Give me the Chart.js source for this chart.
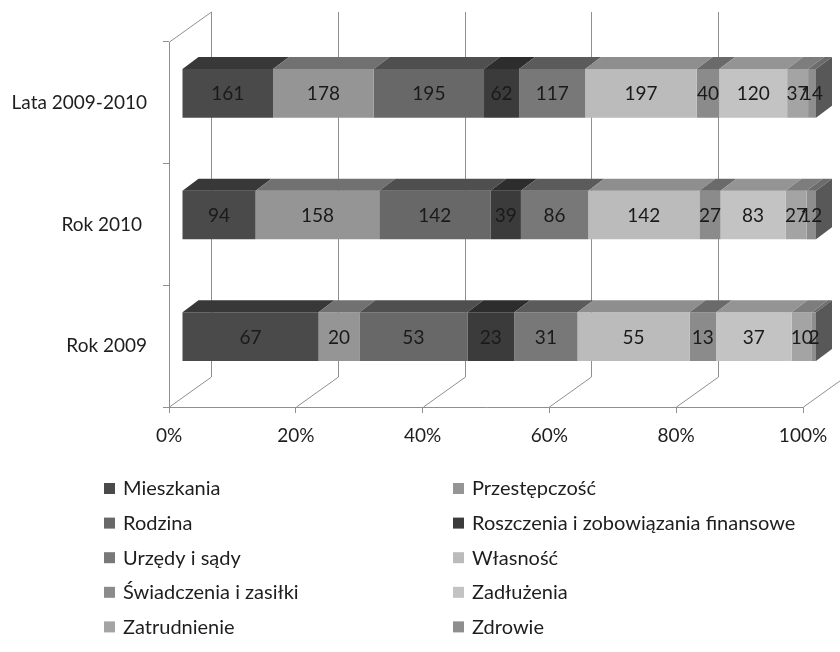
<!DOCTYPE html>
<html>
<head>
<meta charset="utf-8">
<script src="https://cdn.jsdelivr.net/npm/chart.js@4/dist/chart.umd.min.js"></script>
<style>
  html, body { margin: 0; padding: 0; background: #ffffff; }
  #wrap { width: 840px; height: 652px; }
</style>
</head>
<body>
<div id="wrap"><canvas id="c" width="840" height="652"></canvas></div>
<script>
// ---------- data ----------
const categories = ['Lata 2009-2010', 'Rok 2010 ', 'Rok 2009'];
const seriesNames = ['Mieszkania', 'Przestępczość', 'Rodzina', 'Roszczenia i zobowiązania finansowe',
  'Urzędy i sądy', 'Własność', 'Świadczenia i zasiłki', 'Zadłużenia', 'Zatrudnienie', 'Zdrowie'];
const mieszkania    = [161, 94, 67];
const przestepczosc = [178, 158, 20];
const rodzina       = [195, 142, 53];
const roszczenia    = [62, 39, 23];
const urzedy        = [117, 86, 31];
const wlasnosc      = [197, 142, 55];
const swiadczenia   = [40, 27, 13];
const zadluzenia    = [120, 83, 37];
const zatrudnienie  = [37, 27, 10];
const zdrowie       = [14, 12, 2];
const xTickLabels = ['0%', '20%', '40%', '60%', '80%', '100%'];

const seriesValues = [mieszkania, przestepczosc, rodzina, roszczenia, urzedy,
  wlasnosc, swiadczenia, zadluzenia, zatrudnienie, zdrowie];

// ---------- styles ----------
const seriesColors = ['#4a4a4a', '#959595', '#686868', '#3b3b3b', '#787878',
  '#bbbbbb', '#8b8b8b', '#c3c3c3', '#a4a4a4', '#8e8e8e'];
const GRID = '#8f8f8f';
const TEXT = '#1e1e1e';
const FONT = { family: 'Lato', size: 19 };
const LEGEND_FONT = { family: 'Lato', size: 20 };
const DEPTH_X = 42, DEPTH_Y = -30;     // wall depth
const BAR_DX = 13, BAR_DY = -9.5;      // bar front-face offset
const TOP_DX = 16, TOP_DY = -12;       // bar depth

function shade(hex, f) {
  const n = parseInt(hex.slice(1), 16);
  const r = Math.round(((n >> 16) & 255) * f), g = Math.round(((n >> 8) & 255) * f), b = Math.round((n & 255) * f);
  return 'rgb(' + r + ',' + g + ',' + b + ')';
}

const totals = categories.map((_, ci) => seriesValues.reduce((s, arr) => s + arr[ci], 0));

const datasets = seriesNames.map((name, i) => ({
  label: name,
  rawValues: seriesValues[i],
  data: seriesValues[i].map((v, ci) => v / totals[ci] * 100),
  backgroundColor: seriesColors[i],
  borderWidth: 0,
  barPercentage: 0.4,
  categoryPercentage: 1.0,
  clip: false
}));

const frame3d = {
  id: 'frame3d',
  beforeDatasetsDraw(chart) {
    const ctx = chart.ctx, xs = chart.scales.x, ca = chart.chartArea;
    ctx.save();
    ctx.strokeStyle = GRID;
    ctx.lineWidth = 1;
    ctx.beginPath();
    xs.ticks.forEach(t => {
      const px = Math.round(xs.getPixelForValue(t.value)) + 0.5;
      ctx.moveTo(px + DEPTH_X, ca.top + DEPTH_Y);
      ctx.lineTo(px + DEPTH_X, ca.bottom + DEPTH_Y);
      ctx.moveTo(px, ca.bottom);
      ctx.lineTo(px + DEPTH_X, ca.bottom + DEPTH_Y);
    });
    const lx = Math.round(ca.left) + 0.5;
    ctx.moveTo(lx, ca.top);
    ctx.lineTo(lx + DEPTH_X, ca.top + DEPTH_Y);
    ctx.stroke();
    ctx.restore();
    ctx.save();
    ctx.translate(BAR_DX, BAR_DY);
  },
  afterDatasetsDraw(chart) {
    const ctx = chart.ctx;
    ctx.restore();
    ctx.save();
    const n = chart.data.datasets.length;
    // top faces
    chart.data.datasets.forEach((ds, di) => {
      const meta = chart.getDatasetMeta(di);
      meta.data.forEach(el => {
        const p = el.getProps(['x', 'y', 'base', 'height'], true);
        const top = p.y - p.height / 2 + BAR_DY;
        const x0 = p.base + BAR_DX, x1 = p.x + BAR_DX;
        ctx.fillStyle = shade(ds.backgroundColor, 0.76);
        ctx.beginPath();
        ctx.moveTo(x0, top);
        ctx.lineTo(x1, top);
        ctx.lineTo(x1 + TOP_DX, top + TOP_DY);
        ctx.lineTo(x0 + TOP_DX, top + TOP_DY);
        ctx.closePath();
        ctx.fill();
      });
    });
    // right side face of last segment
    const lastDs = chart.data.datasets[n - 1];
    chart.getDatasetMeta(n - 1).data.forEach(el => {
      const p = el.getProps(['x', 'y', 'base', 'height'], true);
      const top = p.y - p.height / 2 + BAR_DY, bot = p.y + p.height / 2 + BAR_DY;
      const x1 = p.x + BAR_DX;
      ctx.fillStyle = shade(lastDs.backgroundColor, 0.62);
      ctx.beginPath();
      ctx.moveTo(x1, top);
      ctx.lineTo(x1 + TOP_DX, top + TOP_DY);
      ctx.lineTo(x1 + TOP_DX, bot + TOP_DY);
      ctx.lineTo(x1, bot);
      ctx.closePath();
      ctx.fill();
    });
    // value labels
    ctx.font = FONT.size + 'px ' + FONT.family;
    ctx.fillStyle = '#1a1a1a';
    ctx.textAlign = 'center';
    ctx.textBaseline = 'middle';
    chart.data.datasets.forEach((ds, di) => {
      chart.getDatasetMeta(di).data.forEach((el, ci) => {
        const p = el.getProps(['x', 'y', 'base'], true);
        ctx.fillText(String(ds.rawValues[ci]), (p.base + p.x) / 2 + BAR_DX, p.y + BAR_DY + 1);
      });
    });
    ctx.restore();
  },
  afterDraw(chart) {
    const ctx = chart.ctx;
    ctx.save();
    ctx.font = LEGEND_FONT.size + 'px ' + LEGEND_FONT.family;
    ctx.textAlign = 'left';
    ctx.textBaseline = 'middle';
    chart.data.datasets.forEach((ds, i) => {
      const col = i % 2, row = Math.floor(i / 2);
      const bx = col === 0 ? 104 : 453;
      const cy = 488 + row * 34.6;
      ctx.fillStyle = ds.backgroundColor;
      ctx.fillRect(bx, cy - 5, 11, 11);
      ctx.fillStyle = TEXT;
      ctx.fillText(ds.label, bx + 19, cy + 1);
    });
    ctx.restore();
  }
};

new Chart(document.getElementById('c'), {
  type: 'bar',
  data: { labels: categories, datasets: datasets },
  plugins: [frame3d],
  options: {
    indexAxis: 'y',
    responsive: false,
    animation: false,
    devicePixelRatio: 1,
    layout: { padding: { top: 42, right: 37, bottom: 205, left: 0 } },
    plugins: { legend: { display: false }, tooltip: { enabled: false } },
    scales: {
      x: {
        type: 'linear', min: 0, max: 100, stacked: true,
        ticks: { stepSize: 20, padding: 11, color: TEXT, font: FONT,
          callback: (v, i) => xTickLabels[i] },
        grid: { drawOnChartArea: false, drawTicks: true, tickLength: 6, color: GRID },
        border: { display: true, color: GRID, width: 1 },
        afterFit(s) { s.height = 40; }
      },
      y: {
        type: 'category', stacked: true,
        ticks: { padding: 16, color: TEXT, font: FONT },
        grid: { drawOnChartArea: false, drawTicks: true, tickLength: 6, color: GRID, offset: true },
        border: { display: true, color: GRID, width: 1 },
        afterFit(s) { s.width = 169; }
      }
    }
  }
});
</script>
</body>
</html>
